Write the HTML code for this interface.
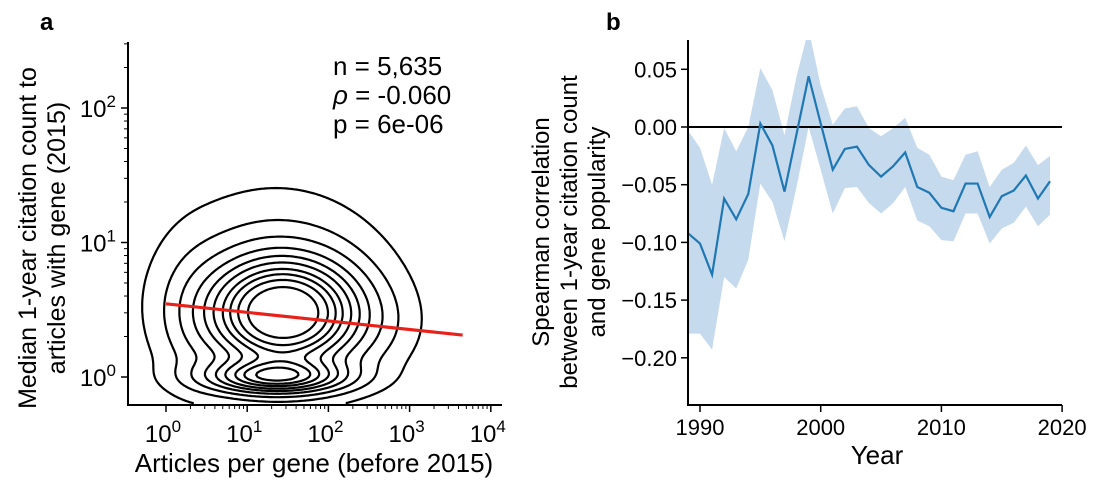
<!DOCTYPE html>
<html><head><meta charset="utf-8">
<style>
html,body{margin:0;padding:0;background:#fff;}
svg{display:block;font-family:"Liberation Sans","DejaVu Sans",sans-serif;}
</style></head>
<body>
<svg id="fig" width="1100" height="488" viewBox="0 0 1100 488" xmlns="http://www.w3.org/2000/svg">
<text x="40" y="30" font-size="24" font-weight="bold">a</text>
<text x="606" y="30" font-size="24" font-weight="bold">b</text>
<g id="pa"></g>
<g id="pb"></g>
<g font-size="26" fill="#000">
<text x="333" y="75">n = 5,635</text>
<text x="333" y="104"><tspan font-style="italic">ρ</tspan> = -0.060</text>
<text x="333" y="133">p = 6e-06</text>
</g>
<text transform="translate(36,238) rotate(-90)" text-anchor="middle" font-size="25">Median 1-year citation count to</text>
<text transform="translate(65,238) rotate(-90)" text-anchor="middle" font-size="25">articles with gene (2015)</text>
<text x="314" y="472" text-anchor="middle" font-size="26">Articles per gene (before 2015)</text>
<text transform="translate(549,232) rotate(-90)" text-anchor="middle" font-size="24">Spearman correlation</text>
<text transform="translate(577,232) rotate(-90)" text-anchor="middle" font-size="24">between 1-year citation count</text>
<text transform="translate(605,232) rotate(-90)" text-anchor="middle" font-size="24">and gene popularity</text>
<text x="877" y="464" text-anchor="middle" font-size="26">Year</text>
</svg>
<script>
// ---------- Panel b data ----------
const years = [1989,1990,1991,1992,1993,1994,1995,1996,1997,1998,1999,2000,2001,2002,2003,2004,2005,2006,2007,2008,2009,2010,2011,2012,2013,2014,2015,2016,2017,2018,2019];
const corr = [-0.092,-0.101,-0.128,-0.062,-0.080,-0.058,0.003,-0.016,-0.056,-0.006,0.044,0.003,-0.037,-0.019,-0.017,-0.033,-0.043,-0.034,-0.022,-0.052,-0.057,-0.070,-0.073,-0.049,-0.049,-0.078,-0.060,-0.055,-0.042,-0.062,-0.047];
const upper = [-0.003,-0.018,-0.050,-0.001,-0.021,0.000,0.051,0.032,-0.007,0.044,0.085,0.036,0.002,0.016,0.018,-0.001,-0.008,-0.001,0.008,-0.018,-0.024,-0.043,-0.046,-0.024,-0.021,-0.052,-0.037,-0.031,-0.016,-0.033,-0.025];
const lower = [-0.179,-0.179,-0.193,-0.130,-0.140,-0.115,-0.049,-0.065,-0.099,-0.052,0.000,-0.037,-0.075,-0.053,-0.052,-0.066,-0.075,-0.066,-0.052,-0.081,-0.086,-0.098,-0.099,-0.075,-0.075,-0.101,-0.088,-0.083,-0.069,-0.086,-0.076];
const bYTicks = [0.05,0.00,-0.05,-0.10,-0.15,-0.20];
const bYTickLabels = ["0.05","0.00","−0.05","−0.10","−0.15","−0.20"];
const bXTicks = [1990,2000,2010,2020];
// ---------- Panel a data ----------
const fitLine = [[1,3.5],[4500,2.05]];   // regression line endpoints (x, y)
const aXTicks = [0,1,2,3,4];             // log10 exponents
const aYTicks = [0,1,2];
// density mixture (log10 x, log10 y, sd u, sd v, weight)
const kdeCu = [1.45,1.35,1.35,2.6,0.3];
const kdeCv = [0.47,0.0,0.62,0.35,0.4];
const kdeSu = [0.58,0.55,0.85,0.4,0.3];
const kdeSv = [0.25,0.08,0.46,0.22,0.4];
const kdeW  = [1.0,0.62,0.2,0.04,0.05];
const levels = [0.04,0.1,0.17,0.25,0.33,0.41,0.5,0.58,0.67,0.78];

const NS="http://www.w3.org/2000/svg";
function mk(parent,tag,attrs){const e=document.createElementNS(NS,tag);for(const k in attrs)e.setAttribute(k,attrs[k]);parent.appendChild(e);return e;}

// ----- Panel b -----
const pb=document.getElementById('pb');
function bX(y){return 700+(y-1990)*12.07;}
function bY(v){return 127-v*1154;}
const clip=mk(pb,'clipPath',{id:'bclip'});
mk(clip,'rect',{x:688,y:40,width:380,height:365});
let d='';
years.forEach((yr,i)=>{d+=(i?'L':'M')+bX(yr)+','+bY(upper[i]);});
for(let i=years.length-1;i>=0;i--)d+='L'+bX(years[i])+','+bY(lower[i]);
const band=mk(pb,'path',{d:d+'Z',fill:'#b3cde8',opacity:0.75,'clip-path':'url(#bclip)'});


const zl=mk(pb,'line',{x1:688,x2:1062,y1:bY(0),y2:bY(0),stroke:'#000','stroke-width':2});


let ld='';years.forEach((yr,i)=>{ld+=(i?'L':'M')+bX(yr)+','+bY(corr[i]);});
const ln=mk(pb,'path',{d:ld,fill:'none',stroke:'#1f77b4','stroke-width':2.2,'clip-path':'url(#bclip)'});


const bax=mk(pb,'path',{d:'M688,40V405H1062',fill:'none',stroke:'#000','stroke-width':2});


bYTicks.forEach((t,i)=>{
  mk(pb,'line',{x1:681,x2:688,y1:bY(t),y2:bY(t),stroke:'#000','stroke-width':1.5});
  const tx=mk(pb,'text',{x:677,y:bY(t)+8,'text-anchor':'end','font-size':22});
  tx.textContent=bYTickLabels[i];
  
  
});
bXTicks.forEach(t=>{
  mk(pb,'line',{x1:bX(t),x2:bX(t),y1:405,y2:412,stroke:'#000','stroke-width':1.5});
  const tx=mk(pb,'text',{x:bX(t),y:435,'text-anchor':'middle','font-size':22});
  tx.textContent=t;
  
  
});

// ----- Panel a -----
const pa=document.getElementById('pa');
function aX(u){return 166+u*81.2;}
function aY(v){return 377-v*134.5;}
function dens(u,v){let s=0;for(let k=0;k<kdeW.length;k++){const a=(u-kdeCu[k])/kdeSu[k],b=(v-kdeCv[k])/kdeSv[k];s+=kdeW[k]*Math.exp(-0.5*(a*a+b*b));}return s;}
const gx0=130,gx1=500,gy0=45,gy1=404,st=2;
const nx=Math.floor((gx1-gx0)/st)+1,ny=Math.floor((gy1-gy0)/st)+1;
const G=[];let mx=0;
for(let j=0;j<ny;j++){const row=[];for(let i=0;i<nx;i++){const px=gx0+i*st,py=gy0+j*st;const f=dens((px-166)/81.2,(377-py)/134.5);row.push(f);if(f>mx)mx=f;}G.push(row);}
levels.forEach((lv,li)=>{
  const L=lv*mx;let p='';
  for(let j=0;j<ny-1;j++)for(let i=0;i<nx-1;i++){
    const a=G[j][i],b=G[j][i+1],c=G[j+1][i+1],e=G[j+1][i];
    const x=gx0+i*st,y=gy0+j*st;const pts=[];
    if((a>L)!=(b>L))pts.push([x+st*(L-a)/(b-a),y]);
    if((b>L)!=(c>L))pts.push([x+st,y+st*(L-b)/(c-b)]);
    if((e>L)!=(c>L))pts.push([x+st*(L-e)/(c-e),y+st]);
    if((a>L)!=(e>L))pts.push([x,y+st*(L-a)/(e-a)]);
    if(pts.length>=2)p+='M'+pts[0][0].toFixed(1)+','+pts[0][1].toFixed(1)+'L'+pts[1][0].toFixed(1)+','+pts[1][1].toFixed(1);
    if(pts.length==4)p+='M'+pts[2][0].toFixed(1)+','+pts[2][1].toFixed(1)+'L'+pts[3][0].toFixed(1)+','+pts[3][1].toFixed(1);
  }
  const c=mk(pa,'path',{d:p,fill:'none',stroke:'#000','stroke-width':2.2,'stroke-linecap':'round'});
  
  
});
const fl=mk(pa,'line',{x1:aX(Math.log10(fitLine[0][0])),y1:aY(Math.log10(fitLine[0][1])),x2:aX(Math.log10(fitLine[1][0])),y2:aY(Math.log10(fitLine[1][1])),stroke:'#e8221b','stroke-width':3.2});


const aax=mk(pa,'path',{d:'M128,42V405H502',fill:'none',stroke:'#000','stroke-width':2});


aXTicks.forEach(t=>{
  mk(pa,'line',{x1:aX(t),x2:aX(t),y1:405,y2:412,stroke:'#000','stroke-width':1.5});
  if(t<4)for(let m=2;m<10;m++){const xx=aX(t+Math.log10(m));mk(pa,'line',{x1:xx,x2:xx,y1:405,y2:409,stroke:'#000','stroke-width':1});}
  const tx=mk(pa,'text',{x:aX(t)-3,y:442,'text-anchor':'middle','font-size':24});
  tx.innerHTML='10<tspan dy="-10" font-size="17">'+t+'</tspan>';
  
  
});
aYTicks.forEach(t=>{
  mk(pa,'line',{x1:121,x2:128,y1:aY(t),y2:aY(t),stroke:'#000','stroke-width':1.5});
  for(let m=2;m<10;m++){const yy=aY(t+Math.log10(m));if(yy>42)mk(pa,'line',{x1:124,x2:128,y1:yy,y2:yy,stroke:'#000','stroke-width':1});}
  const tx=mk(pa,'text',{x:116,y:aY(t)+9,'text-anchor':'end','font-size':24});
  tx.innerHTML='10<tspan dy="-10" font-size="17">'+t+'</tspan>';
  
  
});
</script>
</body></html>
